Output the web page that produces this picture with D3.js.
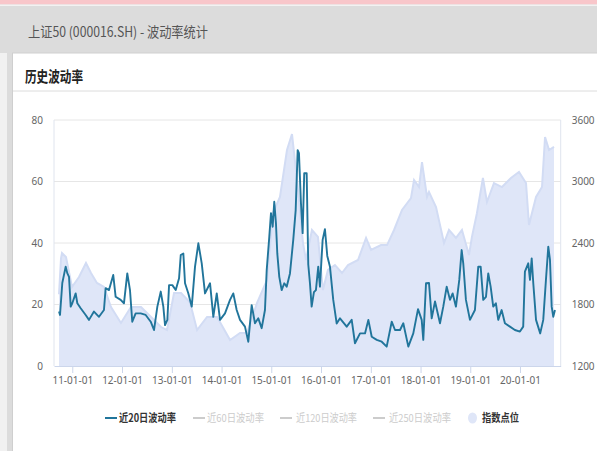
<!DOCTYPE html>
<html><head><meta charset="utf-8">
<script src="https://cdn.jsdelivr.net/npm/d3@7"></script>
<style>html,body{margin:0;padding:0;background:#dcdcdc;overflow:hidden}svg{display:block}</style>
</head><body>
<svg id="c" width="597" height="451"></svg>
<script>
// ---- data (dates as decimal years) ----
const volDates = [2010.733,2010.753,2010.799,2010.867,2010.899,2010.934,2010.968,2011.000,2011.068,2011.101,2011.169,2011.269,2011.336,2011.436,2011.537,2011.637,2011.671,2011.738,2011.824,2011.872,2011.973,2012.039,2012.106,2012.160,2012.206,2012.274,2012.375,2012.475,2012.576,2012.642,2012.709,2012.777,2012.829,2012.863,2012.910,2012.944,2013.010,2013.078,2013.145,2013.179,2013.231,2013.265,2013.332,2013.400,2013.466,2013.533,2013.601,2013.667,2013.768,2013.834,2013.903,2013.969,2014.069,2014.170,2014.236,2014.304,2014.371,2014.471,2014.538,2014.606,2014.672,2014.739,2014.807,2014.873,2014.908,2014.960,2014.994,2015.028,2015.060,2015.094,2015.121,2015.161,2015.209,2015.261,2015.310,2015.376,2015.442,2015.491,2015.531,2015.557,2015.597,2015.631,2015.663,2015.712,2015.744,2015.778,2015.812,2015.858,2015.898,2015.945,2015.979,2016.033,2016.079,2016.126,2016.180,2016.246,2016.315,2016.381,2016.516,2016.616,2016.682,2016.783,2016.883,2016.950,2017.018,2017.119,2017.219,2017.319,2017.420,2017.486,2017.587,2017.653,2017.754,2017.854,2017.949,2018.023,2018.055,2018.110,2018.170,2018.224,2018.291,2018.391,2018.457,2018.526,2018.592,2018.646,2018.712,2018.779,2018.827,2018.859,2018.913,2018.994,2019.094,2019.161,2019.209,2019.261,2019.316,2019.362,2019.410,2019.462,2019.516,2019.563,2019.631,2019.697,2019.798,2019.898,2019.999,2020.065,2020.099,2020.166,2020.201,2020.235,2020.267,2020.322,2020.406,2020.467,2020.521,2020.568,2020.602,2020.636,2020.668,2020.702];
const vol20 = [17.7,16.6,27,32.3,30.2,29,19.3,20.4,23.6,20.4,18.8,16.6,15,17.7,16,18.2,25.3,24.7,29.6,22.5,21.5,20.4,30.1,24.7,14.4,17.1,17.1,16.6,14.4,11.7,19.3,24.2,19.3,13.3,15,26.3,26.3,24.7,28.5,36.1,36.6,26.9,23.6,19.3,32.3,39.9,33.4,23.6,26.9,16,23.6,15,17.1,21.5,23.6,18.2,15,12.8,7.9,19.8,13.9,15.5,12.3,18.2,31.2,42,49.7,45.3,53.4,46.4,36.6,29,24.7,26.9,25.8,30.1,41,50.7,70.2,69.2,52.9,43.2,62.7,62.7,33,26.9,19.3,24,24.7,32.3,25.8,41,44.5,35.8,32.3,21.5,13.8,15.5,12.8,15,7.4,10.6,10.6,15,9.5,8.5,7.9,6.3,14.4,11.7,11.7,13.9,6.3,10.6,18.5,15,8.5,26.9,27,15.5,21,13.9,19.3,25.8,21.5,23.6,19.3,28,37.7,33.4,21.5,15,18.2,32.3,32.3,21.5,22.5,30.1,25.8,19.3,20.4,15,18.2,13.9,12.8,11.7,11.2,12.8,30.7,33.4,28,35,26.9,15,10.6,15,28,38.8,34.5,19.3,16,18.2];
const idxDates = [2010.733,2010.773,2010.793,2010.873,2010.994,2011.135,2011.275,2011.376,2011.496,2011.637,2011.778,2011.979,2012.180,2012.381,2012.582,2012.783,2012.903,2013.044,2013.185,2013.366,2013.507,2013.708,2013.910,2014.171,2014.372,2014.513,2014.714,2014.915,2015.034,2015.175,2015.316,2015.417,2015.517,2015.638,2015.698,2015.818,2015.939,2016.039,2016.140,2016.280,2016.421,2016.542,2016.743,2016.904,2017.004,2017.205,2017.326,2017.467,2017.627,2017.808,2017.869,2017.969,2018.029,2018.130,2018.170,2018.311,2018.472,2018.572,2018.713,2018.833,2018.974,2019.034,2019.134,2019.255,2019.336,2019.477,2019.638,2019.819,2019.980,2020.121,2020.181,2020.322,2020.442,2020.503,2020.583,2020.683];
const idxValues = [1900,2250,2302,2263,1971,2068,2205,2107,2010,1971,1776,1620,1776,1776,1678,1580,1551,1912,1912,1820,1551,1678,1678,1454,1522,1522,1815,2039,2693,2849,3307,3463,3015,2400,2234,2527,2459,1941,2137,2185,2107,2185,2234,2449,2332,2380,2380,2527,2722,2839,3015,2946,3190,2849,2898,2751,2400,2527,2450,2527,2283,2460,2690,3034,2800,2985,2946,3034,3093,2985,2576,2849,2946,3434,3307,3337];
const yLeftTicks = [0,20,40,60,80];
const yRightTicks = [1200,1800,2400,3000,3600];
const xTickYears = [2011,2012,2013,2014,2015,2016,2017,2018,2019,2020];
const xDomainYears = [2010.632,2020.817];
const legendLabels = ["近20日波动率","近60日波动率","近120日波动率","近250日波动率","指数点位"];
const legendActive = [true,false,false,false,true];
const headerText = "上证50 (000016.SH) - 波动率统计";
const titleText = "历史波动率";

function yrToDate(y){const Y=Math.floor(y);const s=new Date(Y,0,1),e=new Date(Y+1,0,1);return new Date(s.getTime()+(y-Y)*(e-s));}

const svg = d3.select("#c");
const CJK = "'Noto Sans CJK SC','Noto Sans',sans-serif";

// page background
svg.append("rect").attr("x",0).attr("y",0).attr("width",597).attr("height",451).attr("fill","#dcdcdc");
svg.append("rect").attr("x",0).attr("y",0).attr("width",597).attr("height",4.5).attr("fill","#f8c6ca");
svg.append("rect").attr("x",0).attr("y",4.5).attr("width",597).attr("height",1.5).attr("fill","#f2f2f2");
svg.append("rect").attr("x",0).attr("y",53).attr("width",7).attr("height",400).attr("fill","#f1f1f1");
svg.append("text").attr("x",28).attr("y",37).attr("font-family",CJK).attr("font-size",14)
  .attr("fill","#555").attr("textLength",180).attr("lengthAdjust","spacingAndGlyphs").text(headerText);

// card
svg.append("rect").attr("x",12.5).attr("y",53).attr("width",600).attr("height",410)
  .attr("fill","#fff").attr("stroke","#cfcfcf").attr("stroke-width",1);
svg.append("text").attr("x",25).attr("y",82).attr("font-family",CJK).attr("font-size",15).attr("font-weight","bold")
  .attr("fill","#222").attr("textLength",58).attr("lengthAdjust","spacingAndGlyphs").text(titleText);
svg.append("line").attr("x1",13).attr("x2",597).attr("y1",91).attr("y2",91).attr("stroke","#dcdcdc");

// scales
const L=54, R=560.7, T=120, B=366;
const x = d3.scaleTime().domain(xDomainYears.map(yrToDate)).range([L,R]);
const yL = d3.scaleLinear().domain([0,80]).range([B,T]);
const yR = d3.scaleLinear().domain([1200,3600]).range([B,T]);

// grid
svg.append("g").selectAll("line").data(yLeftTicks.filter(d=>d>0)).join("line")
  .attr("x1",L).attr("x2",R).attr("y1",d=>yL(d)).attr("y2",d=>yL(d)).attr("stroke","#e6e6e6");

// index area
const idx = idxDates.map((d,i)=>({t:yrToDate(d),v:idxValues[i]}));
svg.append("path").datum(idx)
  .attr("d",d3.area().x(d=>x(d.t)).y0(B).y1(d=>yR(d.v)))
  .attr("fill","#dfe6f8");
svg.append("path").datum(idx)
  .attr("d",d3.line().x(d=>x(d.t)).y(d=>yR(d.v)))
  .attr("fill","none").attr("stroke","#d2dcf4").attr("stroke-width",2);

// vol line
const vol = volDates.map((d,i)=>({t:yrToDate(d),v:vol20[i]}));
svg.append("path").datum(vol)
  .attr("d",d3.line().x(d=>x(d.t)).y(d=>yL(d.v)))
  .attr("fill","none").attr("stroke","#21759b").attr("stroke-width",1.9).attr("stroke-linejoin","round");

// axis frame lines
svg.append("line").attr("x1",L).attr("x2",L).attr("y1",T).attr("y2",B).attr("stroke","#dfe4ee");
svg.append("line").attr("x1",R).attr("x2",R).attr("y1",T).attr("y2",B).attr("stroke","#dfe4ee");

// axes
const tickFont = "'Noto Sans',sans-serif";
const gx = svg.append("g").attr("transform",`translate(0,${B})`)
  .call(d3.axisBottom(x).tickValues(xTickYears.map(y=>new Date(y,0,1))).tickFormat(d3.timeFormat("%y-%m-%d")).tickSize(7).tickSizeOuter(0).tickPadding(4));
gx.select(".domain").attr("stroke","#ccd6eb");
gx.selectAll(".tick line").attr("stroke","#ccd6eb");
gx.selectAll("text").attr("fill","#666").attr("font-size",10).attr("font-family",tickFont);

const gl = svg.append("g").attr("transform",`translate(${L},0)`)
  .call(d3.axisLeft(yL).tickValues(yLeftTicks).tickFormat(d3.format("d")).tickSize(0).tickPadding(11));
gl.select(".domain").remove();
gl.selectAll("text").attr("fill","#666").attr("font-size",10).attr("font-family",tickFont);

const gr = svg.append("g").attr("transform",`translate(${R},0)`)
  .call(d3.axisRight(yR).tickValues(yRightTicks).tickFormat(d3.format("d")).tickSize(0).tickPadding(11));
gr.select(".domain").remove();
gr.selectAll("text").attr("fill","#666").attr("font-size",10).attr("font-family",tickFont);

// legend
const legX = [105,193,280,373,468];
const legTextX = [119,207,296,389,482];
const legW = [57,57,61,62,37];
const lg = svg.append("g");
legendLabels.forEach((lab,i)=>{
  const col = i===0 ? "#21759b" : (legendActive[i] ? "#dfe6f8" : "#cccccc");
  if(i<4){
    lg.append("line").attr("x1",legX[i]).attr("x2",legX[i]+12).attr("y1",418).attr("y2",418)
      .attr("stroke",col).attr("stroke-width",2);
  } else {
    lg.append("ellipse").attr("cx",legX[i]+4.5).attr("cy",418).attr("rx",4.5).attr("ry",5.5).attr("fill",col);
  }
  lg.append("text").attr("x",legTextX[i]).attr("y",422).attr("font-family",CJK).attr("font-size",11)
    .attr("font-weight",legendActive[i]?"bold":"normal")
    .attr("fill",legendActive[i]?"#333":"#cccccc")
    .attr("textLength",legW[i]).attr("lengthAdjust","spacingAndGlyphs").text(lab);
});
</script>
</body></html>
